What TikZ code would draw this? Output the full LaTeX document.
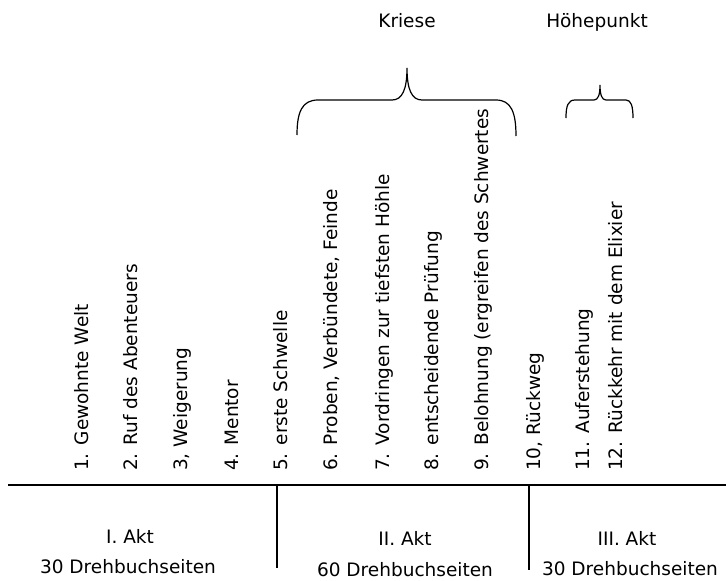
\documentclass[tikz,border=0pt]{standalone}
\usepackage{fontspec}
\setmainfont{DejaVu Sans}
\begin{document}
\begin{tikzpicture}[x=1pt,y=-1pt,
  lbl/.style={rotate=90,anchor=base west,inner sep=0pt,font=\fontsize{18.5}{22}\selectfont},
  txt/.style={anchor=base,inner sep=0pt,font=\fontsize{18.5}{22}\selectfont},
  axis/.style={line width=1.8pt},
  divider/.style={line width=1.3pt},
  bracket/.style={line width=1.2pt}]
\useasboundingbox (0,0) rectangle (726,581);

% stage labels, written bottom to top
\node[lbl] (s1)  at (88,471)  {1. Gewohnte Welt};
\node[lbl] (s2)  at (137,471) {2. Ruf des Abenteuers};
\node[lbl] (s3)  at (187,471) {3, Weigerung};
\node[lbl] (s4)  at (238,471) {4. Mentor};
\node[lbl] (s5)  at (287,471) {5. erste Schwelle};
\node[lbl] (s6)  at (337,471) {6. Proben, Verbündete, Feinde};
\node[lbl] (s7)  at (389,471) {7. Vordringen zur tiefsten Höhle};
\node[lbl] (s8)  at (438,471) {8. entscheidende Prüfung};
\node[lbl] (s9)  at (488,471) {9. Belohnung (ergreifen des Schwertes};
\node[lbl] (s10) at (540,471) {10, Rückweg};
\node[lbl] (s11) at (589,471) {11. Auferstehung};
\node[lbl] (s12) at (622,471) {12. Rückkehr mit dem Elixier};

% timeline and act borders
\coordinate (tl) at (8,485);
\coordinate (tr) at (726,485);
\coordinate (d1t) at (277,485);
\coordinate (d1b) at (277,568);
\coordinate (d2t) at (529,485);
\coordinate (d2b) at (529,570);
\draw[axis] (tl) -- (tr);
\draw[divider] (d1t) -- (d1b);
\draw[divider] (d2t) -- (d2b);

% acts
\node[txt] (a1)  at (130,543) {I. Akt};
\node[txt] (p1)  at (128,573) {30 Drehbuchseiten};
\node[txt] (a2)  at (405,545) {II. Akt};
\node[txt] (p2)  at (405,576) {60 Drehbuchseiten};
\node[txt] (a3)  at (627,545) {III. Akt};
\node[txt] (p3)  at (630,575) {30 Drehbuchseiten};

% headings
\node[txt] (kriese) at (407,27) {Kriese};
\node[txt] (hoehe)  at (597,27) {Höhepunkt};

% curly brackets
\draw[bracket] (297,135) .. controls (297,112) and (302,100) .. (318,100)
  -- (392,100) .. controls (402,100) and (407,90) .. (407,68)
  .. controls (407,90) and (412,100) .. (422,100)
  -- (496,100) .. controls (511,100) and (516,112) .. (516,136);
\draw[bracket] (566,118) .. controls (566,106) and (568,100) .. (575,100)
  -- (594,100) .. controls (598,100) and (600,95) .. (600,85)
  .. controls (600,95) and (602,100) .. (606,100)
  -- (626,100) .. controls (631,100) and (633,106) .. (633,118);
\end{tikzpicture}
\end{document}
